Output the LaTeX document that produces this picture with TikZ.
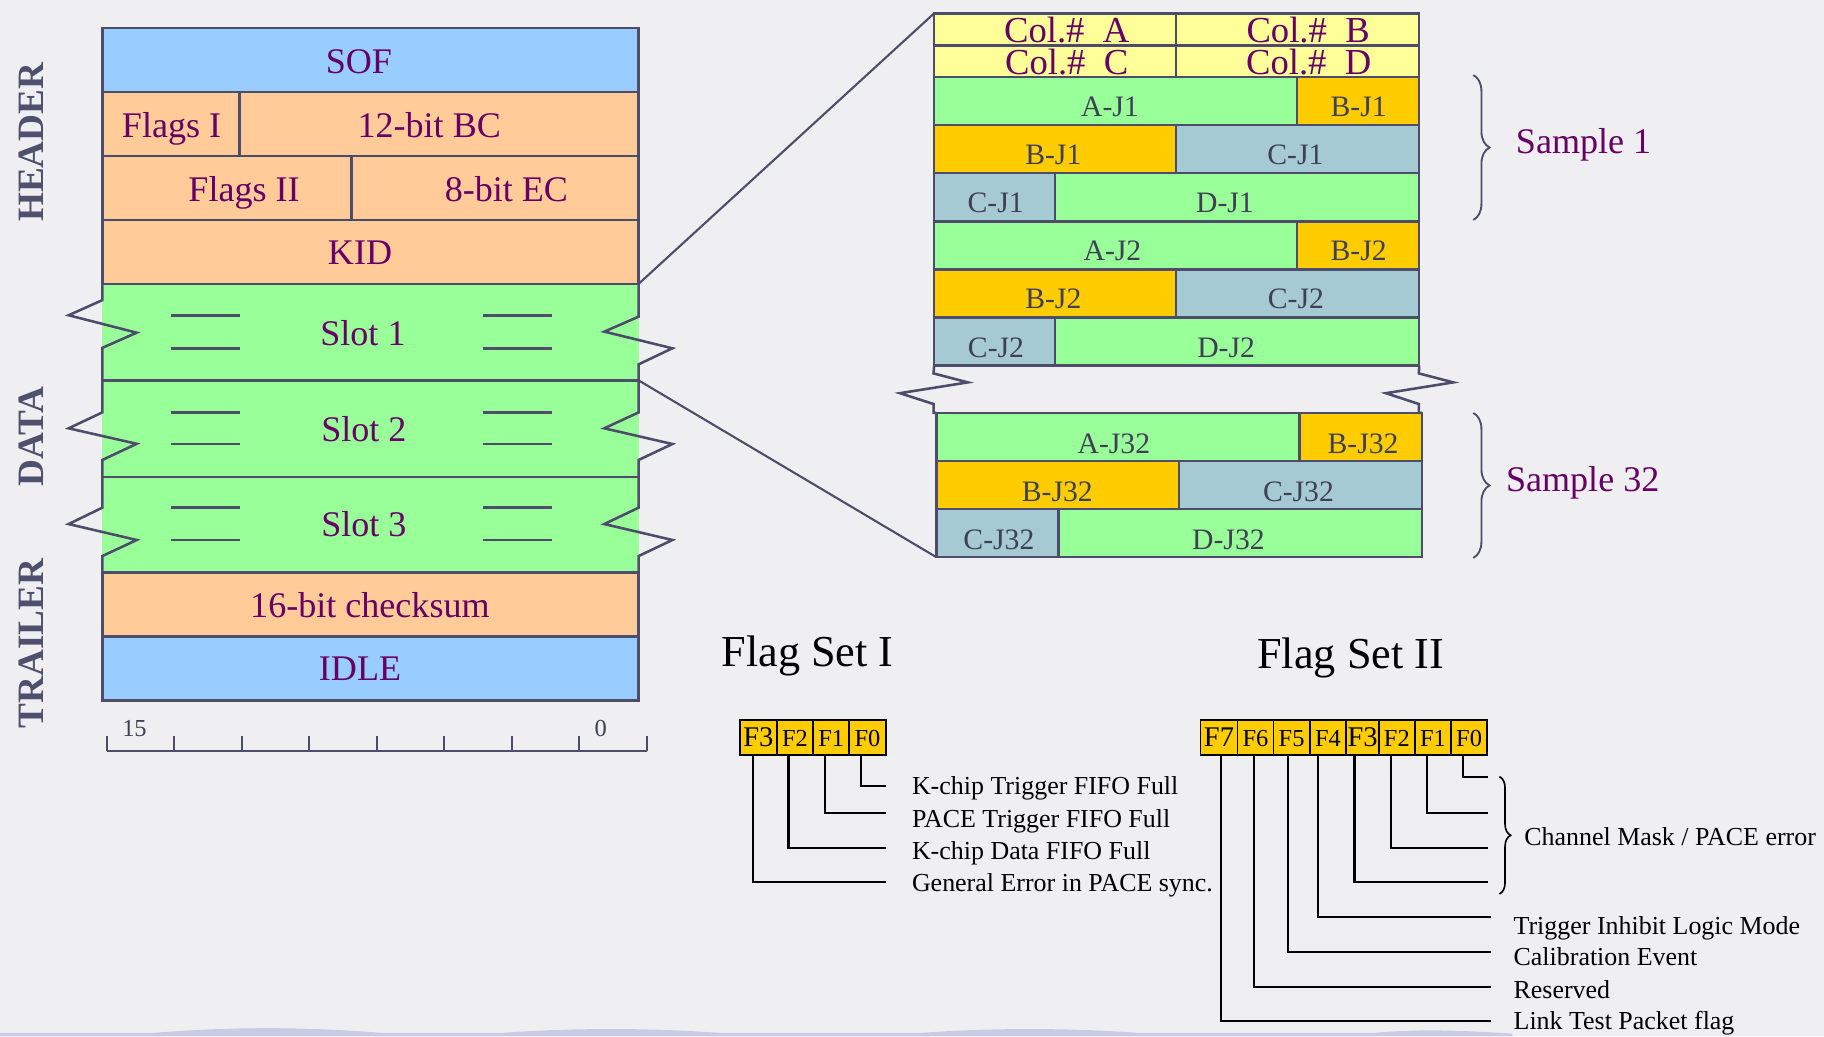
\documentclass[tikz,border=0pt]{standalone}
\usepackage{fontspec}
\setmainfont{Liberation Serif}
\usetikzlibrary{decorations.pathreplacing}

\definecolor{bgpaper}{HTML}{EFEFF1}
\definecolor{edge}{HTML}{4D4D6B}
\definecolor{skyblue}{HTML}{99CCFF}
\definecolor{peach}{HTML}{FFCC99}
\definecolor{mint}{HTML}{99FF99}
\definecolor{gold}{HTML}{FFCC00}
\definecolor{steel}{HTML}{A6CAD4}
\definecolor{paleyel}{HTML}{FFFF99}
\definecolor{plum}{HTML}{660066}
\definecolor{slate}{HTML}{3F3F55}
\definecolor{sidegray}{HTML}{4F4F6E}
\definecolor{wavecol}{HTML}{C4C4E4}

\tikzset{
  frame/.style={draw=edge, line width=2.2pt},
  cellbox/.style={draw=edge, line width=2.2pt, inner sep=0pt, outer sep=0pt},
  fillbox/.style={draw=none, inner sep=0pt, outer sep=0pt},
  txt/.style={anchor=base, inner sep=0pt, outer sep=0pt},
  big/.style={txt, text=plum, font=\fontsize{31}{31}\selectfont},
  jtxt/.style={txt, text=slate, font=\fontsize{25.5}{25.5}\selectfont},
  coltxt/.style={txt, text=plum, text height=20pt, text depth=0pt, font=\fontsize{31.5}{31.5}\selectfont},
  flagbox/.style={draw=black, line width=1.4pt, fill=gold, inner sep=0pt, outer sep=0pt},
  ftxt/.style={txt, font=\fontsize{21}{21}\selectfont},
  ftxtbig/.style={txt, font=\fontsize{24.5}{24.5}\selectfont},
  lead/.style={draw=black, line width=1.8pt},
  desc/.style={anchor=base west, inner sep=0pt, font=\fontsize{22.3}{22.3}\selectfont},
  title/.style={anchor=base west, inner sep=0pt, font=\fontsize{38}{38}\selectfont},
  side/.style={rotate=90, inner sep=0pt, text=sidegray, font=\bfseries\fontsize{32}{32}\selectfont},
  bracket/.style={draw=edge, line width=1.6pt, decorate, decoration={brace, amplitude=#1}},
  ruler/.style={draw=edge, line width=2pt},
  rulertxt/.style={txt, text=slate, font=\fontsize{21}{21}\selectfont},
}

% rectangle node from two corners: name, x0, y0, x1, y1, style
\newcommand\boxcell[6]{%
  \pgfmathsetmacro\bxX{(#2+#4)/2}\pgfmathsetmacro\bxY{(#3+#5)/2}%
  \pgfmathsetmacro\bxW{#4-#2}\pgfmathsetmacro\bxH{#5-#3}%
  \node[#6, minimum width=\bxW pt, minimum height=\bxH pt] (#1) at (\bxX,\bxY) {};}

\begin{document}
\begin{tikzpicture}[x=1pt,y=-1pt]
\useasboundingbox (0,0) rectangle (1568,891);
\fill[bgpaper] (0,0) rectangle (1568,891);

% soft wave along the lower edge
\fill[wavecol, opacity=0.85] (0,891) -- (0,888) -- (130,888)
  .. controls (200,882.5) and (260,882.5) .. (330,888) -- (430,888)
  .. controls (490,883.5) and (560,883.5) .. (620,888) -- (790,888)
  .. controls (850,883.5) and (920,883.5) .. (980,888) -- (1180,888)
  .. controls (1220,884.5) and (1250,885.5) .. (1300,888.5) -- (1300,891) -- cycle;

% ---------------- packet frame ----------------
\boxcell{slotA}{88}{244}{549}{327}{fillbox, fill=mint}
\boxcell{slotB}{88}{327}{549}{410}{fillbox, fill=mint}
\boxcell{slotC}{88}{410}{549}{492}{fillbox, fill=mint}

\boxcell{sof}{88}{24}{549}{79}{cellbox, fill=skyblue}
\boxcell{flagsI}{88}{79}{206}{134}{cellbox, fill=peach}
\boxcell{bc}{206}{79}{549}{134}{cellbox, fill=peach}
\boxcell{flagsII}{88}{134}{302}{189}{cellbox, fill=peach}
\boxcell{ec}{302}{134}{549}{189}{cellbox, fill=peach}
\boxcell{kid}{88}{189}{549}{244}{cellbox, fill=peach}
\boxcell{crc}{88}{492}{549}{547}{cellbox, fill=peach}
\boxcell{idle}{88}{547}{549}{602}{cellbox, fill=skyblue}

\draw[frame] (slotA.south west) -- (slotA.south east);
\draw[frame] (slotB.south west) -- (slotB.south east);

% broken side edges of the data slots
\draw[frame] (kid.south west) -- (88,258) -- (59,271) -- (117.5,286) -- (88,299)
  -- (88,354.5) -- (59,368.2) -- (117.5,381.5) -- (88,395.4)
  -- (88,436.4) -- (59,450.5) -- (117.5,464.2) -- (88,478) -- (crc.north west);
\draw[frame] (kid.south east) -- (549,272.2) -- (519.5,285.1) -- (578,299.4) -- (549,313.2)
  -- (549,354.5) -- (519.5,368.2) -- (578,381.7) -- (549,395.4)
  -- (549,436.4) -- (519.5,450.5) -- (578,464.2) -- (549,478) -- (crc.north east);

% elision marks inside the slots
\foreach \ya/\yb in {271.4/299.4, 354.5/381.7, 436.4/464.2}{
  \draw[frame] (147.4,\ya) -- (206.7,\ya);
  \draw[frame] (147.4,\yb) -- (206.7,\yb);
  \draw[frame] (415.4,\ya) -- (474.7,\ya);
  \draw[frame] (415.4,\yb) -- (474.7,\yb);
}

\node[big] (tsof) at (308.6,63) {SOF};
\node[big] (tflagsI) at (147.5,118) {Flags I};
\node[big] (tbc) at (369,118) {12-bit BC};
\node[big] (tflagsII) at (209.8,172.8) {Flags II};
\node[big] (tec) at (435.3,172.8) {8-bit EC};
\node[big] (tkid) at (309.5,227.8) {KID};
\node[big] (tslotA) at (312,297.2) {Slot 1};
\node[big] (tslotB) at (312.8,379.7) {Slot 2};
\node[big] (tslotC) at (312.8,461.3) {Slot 3};
\node[big] (tcrc) at (318,530.7) {16-bit checksum};
\node[big] (tidle) at (309.5,585.4) {IDLE};

\node[side] (hdr) at (26.5,122.3) {HEADER};
\node[side] (dat) at (26.5,375) {DATA};
\node[side] (trl) at (26.5,553.4) {TRAILER};

% bit ruler
\coordinate (rl) at (91.8,645.3);
\coordinate (rr) at (556,645.3);
\draw[ruler] (rl) -- (rr);
\foreach \k in {0,...,8}{
  \draw[ruler] (91.8+\k*58.025,645.3) -- (91.8+\k*58.025,632.7);
}
\node[rulertxt] (b15) at (115.6,632.7) {15};
\node[rulertxt] (b0) at (516.5,632.7) {0};

% ---------------- slot detail ----------------
\boxcell{colA}{803}{11.5}{1011}{39.2}{cellbox, fill=paleyel}
\boxcell{colB}{1011}{11.5}{1220}{39.2}{cellbox, fill=paleyel}
\boxcell{colC}{803}{39.2}{1011}{66.2}{cellbox, fill=paleyel}
\boxcell{colD}{1011}{39.2}{1220}{66.2}{cellbox, fill=paleyel}
\node[coltxt] (tcolA) at (917,36.9) {Col.\#\ \ A};
\node[coltxt] (tcolB) at (1124.5,36.9) {Col.\#\ \ B};
\node[coltxt] (tcolC) at (917,64) {Col.\#\ \ C};
\node[coltxt] (tcolD) at (1125,64) {Col.\#\ \ D};

% sample 1
\boxcell{aj1}{803}{66.2}{1115}{107.5}{cellbox, fill=mint}
\boxcell{bj1a}{1115}{66.2}{1220}{107.5}{cellbox, fill=gold}
\boxcell{bj1b}{803}{107.5}{1011}{148.9}{cellbox, fill=gold}
\boxcell{cj1a}{1011}{107.5}{1220}{148.9}{cellbox, fill=steel}
\boxcell{cj1b}{803}{148.9}{907}{190.2}{cellbox, fill=steel}
\boxcell{dj1}{907}{148.9}{1220}{190.2}{cellbox, fill=mint}
\node[jtxt] (taj1) at (954.2,100.2) {A-J1};
\node[jtxt] (tbj1a) at (1168,100.2) {B-J1};
\node[jtxt] (tbj1b) at (905.5,141.5) {B-J1};
\node[jtxt] (tcj1a) at (1113.6,141.5) {C-J1};
\node[jtxt] (tcj1b) at (855.9,182.9) {C-J1};
\node[jtxt] (tdj1) at (1053,182.9) {D-J1};

% sample 2
\boxcell{aj2}{803}{190.2}{1115}{231.6}{cellbox, fill=mint}
\boxcell{bj2a}{1115}{190.2}{1220}{231.6}{cellbox, fill=gold}
\boxcell{bj2b}{803}{231.6}{1011}{272.9}{cellbox, fill=gold}
\boxcell{cj2a}{1011}{231.6}{1220}{272.9}{cellbox, fill=steel}
\boxcell{cj2b}{803}{272.9}{907}{314.2}{cellbox, fill=steel}
\boxcell{dj2}{907}{272.9}{1220}{314.2}{cellbox, fill=mint}
\node[jtxt] (taj2) at (956.3,224.2) {A-J2};
\node[jtxt] (tbj2a) at (1168,224.2) {B-J2};
\node[jtxt] (tbj2b) at (905.5,265.5) {B-J2};
\node[jtxt] (tcj2a) at (1114,265.5) {C-J2};
\node[jtxt] (tcj2b) at (856.2,306.9) {C-J2};
\node[jtxt] (tdj2) at (1054,306.9) {D-J2};

% sample 32
\boxcell{aj32}{805}{355}{1117.2}{396.3}{cellbox, fill=mint}
\boxcell{bj32a}{1117.2}{355}{1222.3}{396.3}{cellbox, fill=gold}
\boxcell{bj32b}{805}{396.3}{1013.7}{437.6}{cellbox, fill=gold}
\boxcell{cj32a}{1013.7}{396.3}{1222.3}{437.6}{cellbox, fill=steel}
\boxcell{cj32b}{805}{437.6}{909.7}{479}{cellbox, fill=steel}
\boxcell{dj32}{909.7}{437.6}{1222.3}{479}{cellbox, fill=mint}
\node[jtxt] (taj32) at (957.5,389.6) {A-J32};
\node[jtxt] (tbj32a) at (1171.8,389.6) {B-J32};
\node[jtxt] (tbj32b) at (908.9,430.9) {B-J32};
\node[jtxt] (tcj32a) at (1116.2,430.9) {C-J32};
\node[jtxt] (tcj32b) at (858.7,472.2) {C-J32};
\node[jtxt] (tdj32) at (1056,472.2) {D-J32};

% break between sample 2 and sample 32
\draw[frame] (cj2b.south west) -- (802.5,321) -- (832,328.7) -- (773.6,338) -- (802.5,347.3) |- (aj32.north west);
\draw[frame] (dj2.south east) -- (1219.7,321) -- (1249.3,328.7) -- (1191.4,338) -- (1219.7,347.3) |- (bj32a.north east);

% zoom lines from the slot to its detail
\draw[frame, line width=1.8pt] (kid.south east) -- (colA.north west);
\draw[frame, line width=1.8pt] (slotA.south east) -- (cj32b.south west);

% sample braces
\coordinate (s1a) at (1266.5,64.5);
\coordinate (s1b) at (1266.5,189.1);
\coordinate (s32a) at (1266.5,355);
\coordinate (s32b) at (1266.5,479.6);
\draw[bracket=14] (s1a) -- (s1b);
\draw[bracket=14] (s32a) -- (s32b);
\node[big, anchor=base west] (samp1) at (1303.2,131.8) {Sample 1};
\node[big, anchor=base west] (samp32) at (1294.7,422.3) {Sample 32};

% ---------------- flag set I ----------------
\node[title] (fsI) at (620.2,573) {Flag Set I};
\boxcell{aF3}{636.1}{619}{667.7}{649}{flagbox}
\boxcell{aF2}{667.7}{619}{699}{649}{flagbox}
\boxcell{aF1}{699}{619}{730}{649}{flagbox}
\boxcell{aF0}{730}{619}{761.4}{649}{flagbox}
\node[ftxtbig] (taF3) at (651.9,641.6) {F3};
\node[ftxt] (taF2) at (683.4,641.6) {F2};
\node[ftxt] (taF1) at (714.5,641.6) {F1};
\node[ftxt] (taF0) at (745.7,641.6) {F0};

\coordinate (ae0) at (761.4,675.4);
\coordinate (ae1) at (761.4,698.6);
\coordinate (ae2) at (761.4,728.7);
\coordinate (ae3) at (761.4,757.9);
\draw[lead] ([xshift=-5.2pt]aF0.south) |- (ae0);
\draw[lead] ([xshift=-5.3pt]aF1.south) |- (ae1);
\draw[lead] ([xshift=-5.5pt]aF2.south) |- (ae2);
\draw[lead] ([xshift=-4.7pt]aF3.south) |- (ae3);
\node[desc] (da0) at (783.8,682.6) {K-chip Trigger FIFO Full};
\node[desc] (da1) at (783.8,711.2) {PACE Trigger FIFO Full};
\node[desc] (da2) at (783.8,738.7) {K-chip Data FIFO Full};
\node[desc] (da3) at (783.8,766) {General Error in PACE sync.};

% ---------------- flag set II ----------------
\node[title] (fsII) at (1080.7,574.5) {Flag Set II};
\boxcell{bF7}{1032}{619}{1063.8}{649}{flagbox}
\boxcell{bF6}{1063.8}{619}{1094.8}{649}{flagbox}
\boxcell{bF5}{1094.8}{619}{1125.9}{649}{flagbox}
\boxcell{bF4}{1125.9}{619}{1157.3}{649}{flagbox}
\boxcell{bF3}{1157.3}{619}{1185.2}{649}{flagbox}
\boxcell{bF2}{1185.2}{619}{1216.3}{649}{flagbox}
\boxcell{bF1}{1216.3}{619}{1247.3}{649}{flagbox}
\boxcell{bF0}{1247.3}{619}{1278.5}{649}{flagbox}
\node[ftxtbig] (tbF7) at (1047.9,641.8) {F7};
\node[ftxt] (tbF6) at (1079.3,641.6) {F6};
\node[ftxt] (tbF5) at (1110.3,641.6) {F5};
\node[ftxt] (tbF4) at (1141.6,641.6) {F4};
\node[ftxtbig] (tbF3) at (1171.3,641.8) {F3};
\node[ftxt] (tbF2) at (1200.8,641.6) {F2};
\node[ftxt] (tbF1) at (1231.8,641.6) {F1};
\node[ftxt] (tbF0) at (1262.9,641.6) {F0};

\coordinate (be0) at (1279,667.6);
\coordinate (be1) at (1279,698.6);
\coordinate (be2) at (1279,728.7);
\coordinate (be3) at (1279,757.9);
\coordinate (be4) at (1282,788);
\coordinate (be5) at (1282,818.1);
\coordinate (be6) at (1282,848.2);
\coordinate (be7) at (1282,877.7);
\draw[lead] ([xshift=-4.9pt]bF0.south) |- (be0);
\draw[lead] ([xshift=-4.9pt]bF1.south) |- (be1);
\draw[lead] ([xshift=-5.3pt]bF2.south) |- (be2);
\draw[lead] ([xshift=-6.9pt]bF3.south) |- (be3);
\draw[lead] ([xshift=-8.3pt]bF4.south) |- (be4);
\draw[lead] ([xshift=-3.1pt]bF5.south) |- (be5);
\draw[lead] ([xshift=-1.4pt]bF6.south) |- (be6);
\draw[lead] ([xshift=1.7pt]bF7.south) |- (be7);

\coordinate (cma) at (1289,667.6);
\coordinate (cmb) at (1289,768.5);
\draw[bracket=9.6, draw=black, line width=1.4pt] (cma) -- (cmb);
\node[desc] (db0) at (1310.2,727.2) {Channel Mask / PACE error};
\node[desc] (db4) at (1301,803.2) {Trigger Inhibit Logic Mode};
\node[desc] (db5) at (1301,830.4) {Calibration Event};
\node[desc] (db6) at (1301,858.2) {Reserved};
\node[desc] (db7) at (1301,884.8) {Link Test Packet flag};
\end{tikzpicture}
\end{document}
